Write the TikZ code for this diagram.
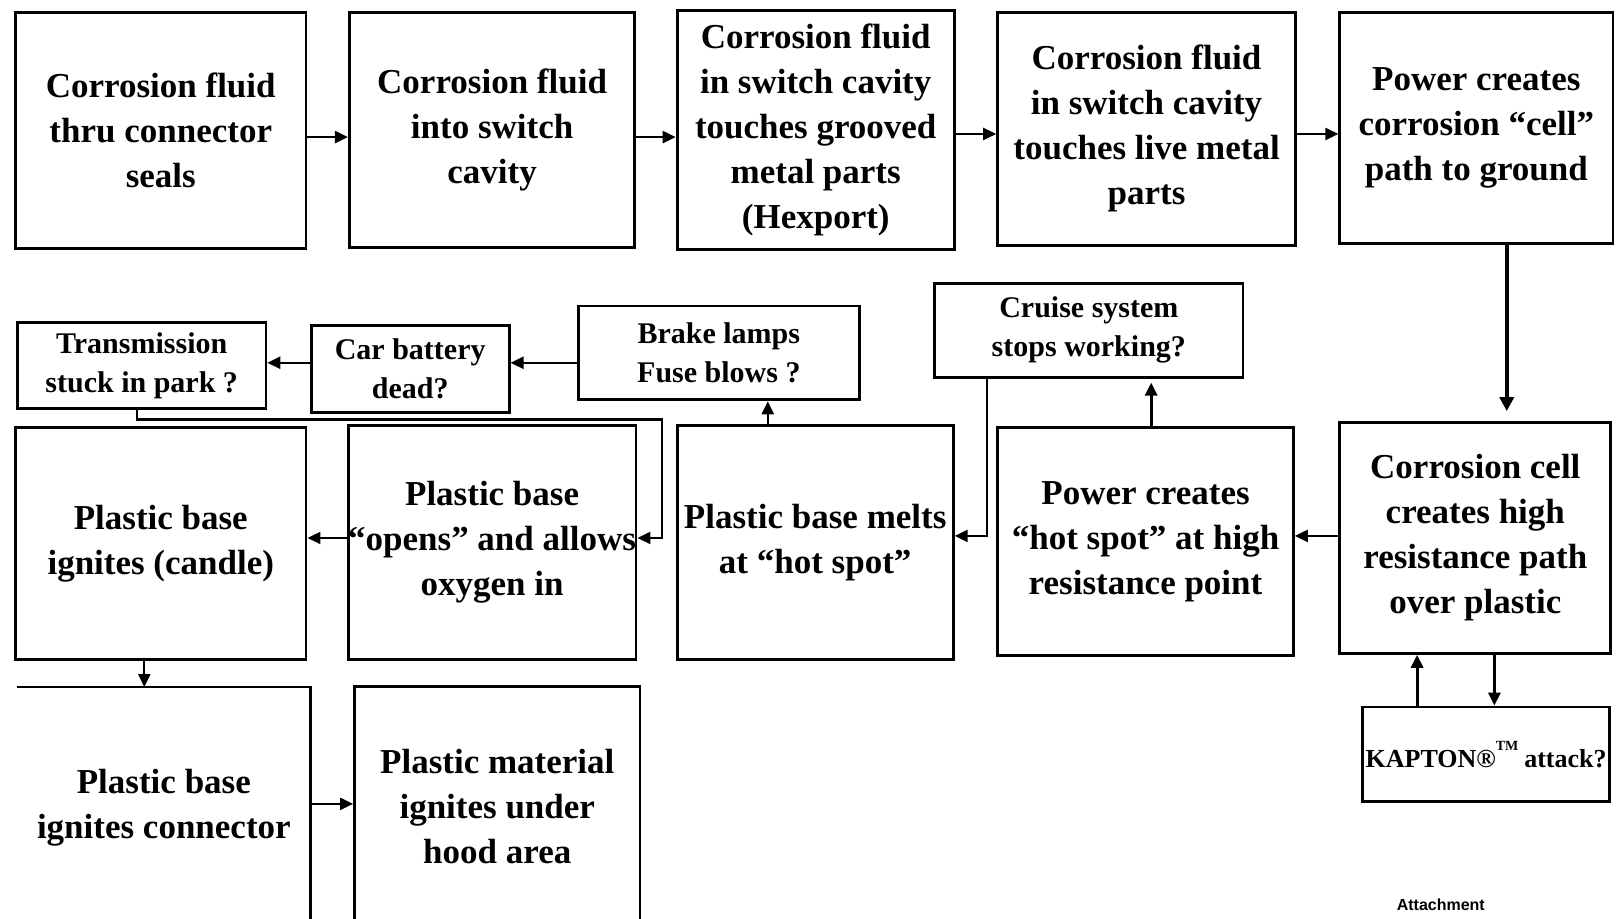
\documentclass[tikz,border=0pt]{standalone}
\usepackage{fontspec}
\setmainfont{Liberation Serif}
\newfontfamily\attfont{Liberation Sans}
\usetikzlibrary{arrows.meta}
\newcommand\bx[7][box]{\node[#1, minimum width={(#5-#3)*0.5153pt}, minimum height={(#6-#4)*0.5153pt}] (#2) at ({(#3+#5)/2},{(#4+#6)/2}) {#7};}
\begin{document}
\begin{tikzpicture}[x=0.5153pt,y=-0.5153pt,
  box/.style={draw, line width=1.4pt, inner sep=0pt, align=center, font=\bfseries\fontsize{17.5}{22.5}\selectfont},
  sbox/.style={box, font=\bfseries\fontsize{15}{19.5}\selectfont},
  openbox/.style={box, draw=none},
  arr/.style={line width=1.1pt, -{Triangle[length=6.5pt,width=6pt]}},
  bigarr/.style={line width=2pt, -{Triangle[length=7pt,width=7pt]}},
  link/.style={line width=1pt}]
\clip (0,0) rectangle (1568,891);
\fill[white] (0,0) rectangle (1568,891);
% row 1
\bx{b1}{15}{12}{297}{241}{Corrosion fluid\\thru connector\\seals}
\bx{b2}{339}{12}{616}{240}{Corrosion fluid\\into switch\\cavity}
\bx{b3}{657}{10}{926}{242}{Corrosion fluid\\in switch cavity\\touches grooved\\metal parts\\(Hexport)}
\bx{b4}{968}{12}{1257}{238}{Corrosion fluid\\in switch cavity\\touches live metal\\parts}
\bx{b5}{1300}{12}{1565}{236}{Power creates\\corrosion “cell”\\path to ground}
% row 2 (small)
\bx[sbox]{trans}{17}{313}{258}{396}{Transmission\\stuck in park ?}
\bx[sbox]{bat}{302}{316}{494}{400}{Car battery\\dead?}
\bx[sbox]{brake}{561}{297}{834}{388}{Brake lamps\\Fuse blows ?}
\bx[sbox]{cruise}{907}{275}{1206}{366}{Cruise system\\stops working?}
% row 3
\bx{ign}{15}{415}{297}{640}{Plastic base\\ignites (candle)}
\bx{opens}{339}{413}{616}{640}{Plastic base\\“opens” and allows\\oxygen in}
\bx{melts}{657}{413}{925}{640}{Plastic base melts\\at “hot spot”}
\bx{hot}{968}{415}{1255}{636}{Power creates\\“hot spot” at high\\resistance point}
\bx{cell}{1300}{410}{1563}{634}{Corrosion cell\\creates high\\resistance path\\over plastic}
% KAPTON
\bx{kap}{1322}{686}{1562}{778}{{\fontsize{13}{16}\selectfont KAPTON®}\raisebox{0.5em}{\fontsize{7}{8}\selectfont TM}\,{\fontsize{13}{16}\selectfont attack?}}
% row 4
\bx[openbox]{conn}{18}{668}{300}{900}{Plastic base\\ignites connector}
\draw[line width=1.4pt] (conn.north west) -- (conn.north east) -- (conn.south east);
\bx{mat}{344}{666}{621}{900}{Plastic material\\ignites under\\hood area}
\node[font=\attfont\bfseries\fontsize{8}{9}\selectfont] (att) at (1398,878) {Attachment};
% helper coordinates
\coordinate (ya) at (0,133);
\coordinate (yb) at (0,130);
\coordinate (yc) at (0,352);
\coordinate (yd) at (0,520);
\coordinate (ye) at (0,522);
\coordinate (yf) at (0,780);
\coordinate (yg) at (0,407);
\coordinate (xa) at (1462,0);
\coordinate (xb) at (1117,0);
\coordinate (xc) at (958,0);
\coordinate (xd) at (745,0);
\coordinate (xe) at (133,0);
\coordinate (xf) at (642,0);
\coordinate (xg) at (140,0);
\coordinate (xh) at (1375,0);
\coordinate (xi) at (1450,0);
% row 1 arrows
\draw[arr] (b1.east |- ya) -- (b2.west |- ya);
\draw[arr] (b2.east |- ya) -- (b3.west |- ya);
\draw[arr] (b3.east |- yb) -- (b4.west |- yb);
\draw[arr] (b4.east |- yb) -- (b5.west |- yb);
\draw[bigarr] (b5.south -| xa) -- ([yshift=5pt]cell.north -| xa);
% row 3 arrows
\draw[arr] (cell.west |- yd) -- (hot.east |- yd);
\draw[arr, line width=1.5pt] (hot.north -| xb) -- ([yshift=-2pt]cruise.south -| xb);
\draw[arr] (cruise.south -| xc) -- (xc |- yd) -- (melts.east |- yd);
\draw[arr] (melts.north -| xd) -- (brake.south -| xd);
\draw[arr] (brake.west |- yc) -- (bat.east |- yc);
\draw[arr] (bat.west |- yc) -- (trans.east |- yc);
\draw[arr] (trans.south -| xe) -- (xe |- yg) -- (xf |- yg) -- (xf |- ye) -- (opens.east |- ye);
\draw[arr] (opens.west |- ye) -- (ign.east |- ye);
\draw[arr] (ign.south -| xg) -- (conn.north -| xg);
\draw[arr] (conn.east |- yf) -- (mat.west |- yf);
% KAPTON arrows
\draw[arr, line width=1.5pt] (kap.north -| xh) -- (cell.south -| xh);
\draw[arr, line width=1.5pt] (cell.south -| xi) -- (kap.north -| xi);
\end{tikzpicture}
\end{document}
